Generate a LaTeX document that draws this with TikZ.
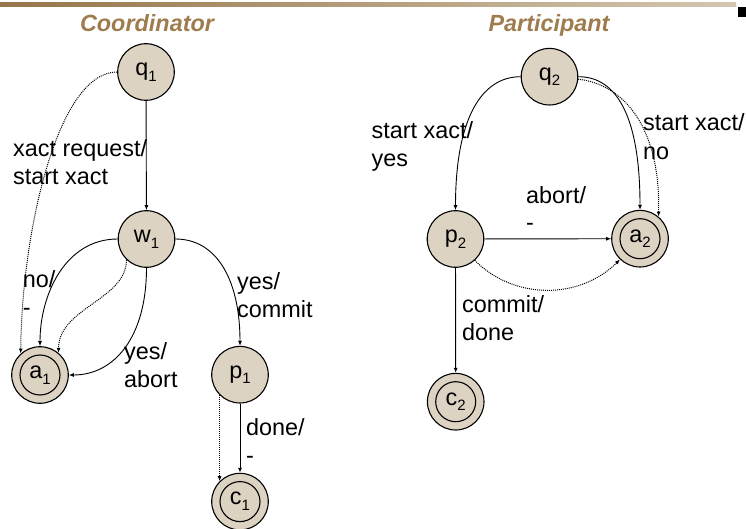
\documentclass[tikz,border=0pt]{standalone}
\usepackage{fontspec}
\setmainfont{Liberation Sans}
\usetikzlibrary{arrows.meta}
\definecolor{nodefill}{RGB}{221,211,195}
\definecolor{titlebrown}{RGB}{158,124,78}
\definecolor{barleft}{RGB}{150,118,74}
\definecolor{barright}{RGB}{212,198,176}
\newcommand{\lsub}[1]{\raisebox{-0.25em}{\fontsize{15}{15}\selectfont #1}}
\begin{document}
\begin{tikzpicture}[x=1pt,y=-1pt,
  txt/.style={font=\fontsize{23.4}{28}\selectfont, inner sep=0pt, align=left, anchor=base west},
  ttl/.style={font=\fontsize{23.4}{28}\selectfont\bfseries\itshape, text=titlebrown, inner sep=0pt, anchor=base},
  state/.style={circle, draw=black, fill=nodefill, line width=1.1pt, minimum size=56.6pt, inner sep=0pt, font=\fontsize{23.4}{28}\selectfont},
  accept/.style={state, path picture={\draw[line width=1.1pt] (path picture bounding box.center) circle (20pt);}},
  arr/.style={line width=0.9pt, -{Latex[length=5pt,width=4pt]}},
  dotarr/.style={line width=1pt, dash pattern=on 1pt off 1pt, -{Latex[length=5pt,width=4pt]}}
]
\useasboundingbox (0,0) rectangle (746,529);
% top bar
\shade[left color=barleft, right color=barright] (0,2.7) rectangle (736,6.7);
\fill[black] (738,7) rectangle (746,17);
% titles
\node[ttl] (tc) at (147,32) {Coordinator};
\node[ttl] (tp) at (549,32) {Participant};
% coordinator states
\node[state] (q1) at (146,72) {q\lsub{1}};
\node[state] (w1) at (146.5,239) {w\lsub{1}};
\node[accept] (a1) at (40,375) {a\lsub{1}};
\node[state] (p1) at (240,374.7) {p\lsub{1}};
\node[accept] (c1) at (240,501.6) {c\lsub{1}};
% participant states
\node[state] (q2) at (549.5,76.7) {q\lsub{2}};
\node[state] (p2) at (455.5,239) {p\lsub{2}};
\node[accept] (a2) at (640,238.7) {a\lsub{2}};
\node[accept] (c2) at (455.7,401.7) {c\lsub{2}};
% coordinator edges
\draw[arr] (q1) -- (w1);
\draw[dotarr] (q1.west) .. controls +(-60,0) and +(1,-120) .. (a1.132);
\draw[arr] (w1.west) .. controls +(-52,0) and +(0,-52) .. (a1.north);
\draw[dotarr] (w1.226) .. controls +(0,40) and +(0,-45) .. (a1.50);
\draw[arr] (w1.south) .. controls +(0,70) and +(45,0) .. (a1.east);
\draw[arr] (w1.east) .. controls +(42,0) and +(0,-65) .. (p1.north);
\draw[arr] (p1) -- (c1);
\draw[dotarr] (p1.225) -- (c1.135);
% participant edges
\draw[arr] (q2.west) .. controls +(-40,0) and +(0,-90) .. (p2.north);
\draw[arr] (q2.east) .. controls +(40,0) and +(0,-90) .. (a2.north);
\draw[dotarr] (q2.-5) .. controls +(45,5) and +(2,-90) .. (a2.50);
\draw[arr] (p2) -- (a2);
\draw[dotarr] (p2.-48) .. controls +(40,40) and +(-40,40) .. (a2.-134);
\draw[arr] (p2) -- (c2);
% labels (anchor = baseline of last line)
\node[txt] (l1) at (13,185) {xact request/\\start xact};
\node[txt] (l2) at (22.7,315) {no/\\-};
\node[txt] (l3) at (124,387) {yes/\\abort};
\node[txt] (l4) at (237,317) {yes/\\commit};
\node[txt] (l5) at (246,463) {done/\\-};
\node[txt] (l6) at (371.5,167) {start xact/\\yes};
\node[txt] (l7) at (643,160) {start xact/\\[1pt]no};
\node[txt] (l8) at (526,231) {abort/\\-};
\node[txt] (l9) at (462,340) {commit/\\done};
\end{tikzpicture}
\end{document}
